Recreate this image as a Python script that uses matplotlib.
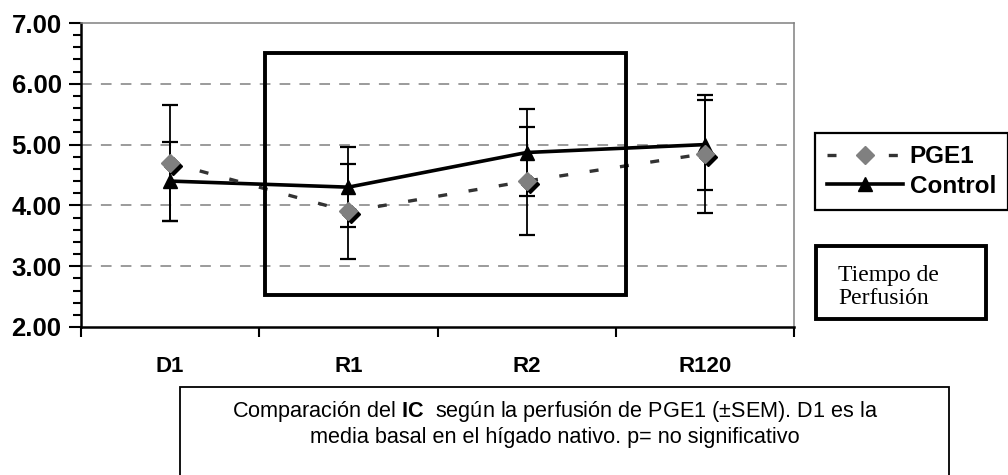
import matplotlib
matplotlib.use('Agg')
import matplotlib.pyplot as plt
import matplotlib.patches as patches
from matplotlib.transforms import offset_copy
from matplotlib.lines import Line2D
import numpy as np

plt.rcParams['font.family'] = ['Liberation Sans', 'DejaVu Sans']
plt.rcParams['mathtext.fontset'] = 'custom'
plt.rcParams['mathtext.rm'] = 'Liberation Sans'
plt.rcParams['mathtext.bf'] = 'Liberation Sans:bold'

# datos
categorias = ['D1', 'R1', 'R2', 'R120']
pge1 = [4.70, 3.90, 4.40, 4.85]
pge1_sem = [0.95, 0.78, 0.89, 0.97]
control = [4.40, 4.30, 4.87, 5.00]
control_sem = [0.65, 0.66, 0.72, 0.74]
y_ticks = [2.00, 3.00, 4.00, 5.00, 6.00, 7.00]

W, H = 1008, 475
fig = plt.figure(figsize=(W / 100, H / 100), dpi=100)


def fx(px):
    return px / W


def fy(py):
    return 1 - py / H


ax = fig.add_axes([fx(81), fy(327), fx(794) - fx(81), fy(23) - fy(327)])
x = np.arange(len(categorias)) + 0.5

ax.set_xlim(0, len(categorias))
ax.set_ylim(2, 7)

# rejilla discontinua
for yv in y_ticks[1:-1]:
    ax.axhline(yv, color='#808080', lw=1.1, ls=(0, (7, 6)), zorder=1)

# serie control
ax.errorbar(x, control, yerr=control_sem, fmt='none', ecolor='black',
            elinewidth=1.3, capsize=5.5, capthick=1.6, zorder=3)
ax.plot(x, control, color='black', lw=2.6, marker='^', ms=9.5,
        mfc='black', mec='black', zorder=4)

# serie PGE1 con sombra en los rombos
ax.errorbar(x, pge1, yerr=pge1_sem, fmt='none', ecolor='black',
            elinewidth=1.3, capsize=5.5, capthick=1.6, zorder=3)
ax.plot(x, pge1, color='#333333', lw=2.4, ls=(0, (2.7, 6.5)), zorder=5)
sombra = offset_copy(ax.transData, fig=fig, x=3, y=-3, units='dots')
ax.plot(x, pge1, ls='none', marker='D', ms=9.5, mfc='black', mec='black',
        transform=sombra, zorder=6)
ax.plot(x, pge1, ls='none', marker='D', ms=9.5, mfc='#808080', mec='#808080',
        zorder=7)

# ejes
ax.set_yticks(y_ticks)
ax.set_yticklabels(['%.2f' % v for v in y_ticks], fontsize=18.5, fontweight='bold')
ax.set_yticks(np.arange(2, 7.01, 0.2), minor=True)
ax.tick_params(axis='y', which='major', direction='out', length=9, width=1.5, pad=5)
ax.tick_params(axis='y', which='minor', direction='out', length=6, width=1.5)

ax.set_xticks(np.arange(0, len(categorias) + 1))
ax.set_xticklabels([])
ax.set_xticks(x, minor=True)
ax.set_xticklabels(categorias, minor=True, fontsize=16, fontweight='bold')
ax.tick_params(axis='x', which='major', direction='out', length=7, width=1.5)
ax.tick_params(axis='x', which='minor', length=0, pad=21)

for lado in ['left', 'bottom']:
    ax.spines[lado].set_color('black')
    ax.spines[lado].set_linewidth(1.8)
for lado in ['top', 'right']:
    ax.spines[lado].set_color('#808080')
    ax.spines[lado].set_linewidth(1.1)

# recuadro del periodo de perfusión
fig.patches.append(patches.Rectangle((fx(265), fy(295)), fx(626) - fx(265),
                                     fy(53) - fy(295), transform=fig.transFigure,
                                     fill=False, ec='black', lw=2.8, zorder=10))

# leyenda
handles = [
    Line2D([], [], color='#333333', lw=2.4, ls=(0, (2.7, 6.5)), marker='D',
           ms=9.5, mfc='#808080', mec='#808080'),
    Line2D([], [], color='black', lw=2.6, marker='^', ms=9.5, mfc='black', mec='black'),
]
leg = fig.legend(handles, ['PGE1', 'Control'], loc='upper left',
                 bbox_to_anchor=(fx(815), fy(133)), borderaxespad=0,
                 fancybox=False, framealpha=1, edgecolor='black',
                 prop={'size': 17.5, 'weight': 'bold'}, handlelength=3.1,
                 handletextpad=0.3, labelspacing=0.27, borderpad=0.5)
leg.get_frame().set_linewidth(1.6)

# cuadro "Tiempo de Perfusión"
fig.patches.append(patches.Rectangle((fx(816), fy(319)), fx(986) - fx(816),
                                     fy(246) - fy(319), transform=fig.transFigure,
                                     fill=False, ec='black', lw=2.8))
fig.text(fx(838), fy(287), 'Tiempo de\nPerfusión', family='Liberation Serif',
         fontsize=17, va='center', ha='left', linespacing=1.12)

# cuadro del pie
fig.patches.append(patches.Rectangle((fx(180), fy(480)), fx(949) - fx(180),
                                     fy(387) - fy(480), transform=fig.transFigure,
                                     fill=False, ec='black', lw=1.3))
fig.text(fx(555), fy(412),
         r'Comparación del $\mathbf{IC}$  según la perfusión de PGE1 (±SEM). D1 es la',
         fontsize=15.6, ha='center', va='center')
fig.text(fx(555), fy(437),
         'media basal en el hígado nativo. p= no significativo',
         fontsize=15.6, ha='center', va='center')

fig.savefig('out.png', dpi=100)
